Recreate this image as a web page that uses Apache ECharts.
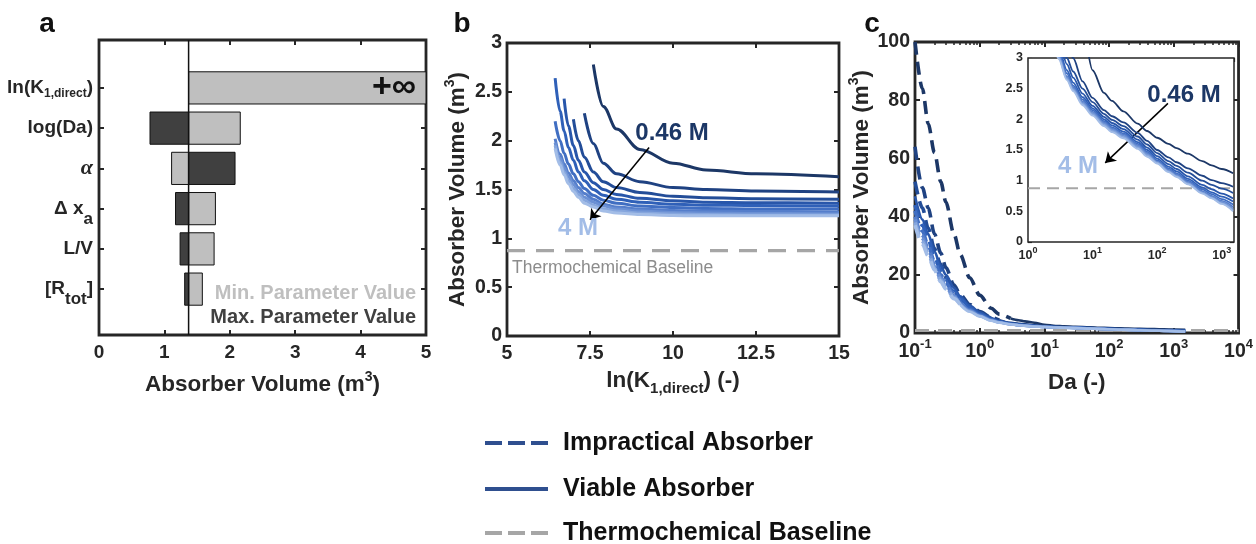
<!DOCTYPE html>
<html><head><meta charset="utf-8">
<script src="https://cdn.jsdelivr.net/npm/echarts@6/dist/echarts.min.js"></script>
<style>html,body{margin:0;padding:0;background:#fff}#c{width:1256px;height:544px}</style>
</head><body><div id="c"></div>
<script>
// ---------------- Panel a : tornado of absorber volume ----------------
const categoriesA = ['ln(K1,direct)', 'log(Da)', 'α', 'Δ xa', 'L/V', '[Rtot]'];
const categoryLabelsA = ['{t|ln(K}{s|1,direct}{t|)}', '{t|log(Da)}', '{g|α}', '{u|Δ x}{s2|a}', '{t|L/V}', '{u|[R}{s2|tot}{u|]}'];
const minParamVolA = [Infinity, 2.16, 1.11, 1.78, 1.76, 1.58];   // light bars (min. parameter value)
const maxParamVolA = [1.37, 0.78, 2.08, 1.17, 1.24, 1.31];       // dark bars (max. parameter value)
const baseVolA = 1.37;

// ---------------- Panel b : volume vs ln(K1,direct) ----------------
const concLabels = ['0.46 M', '0.6 M', '0.8 M', '1 M', '1.5 M', '2 M', '2.5 M', '3 M', '3.5 M', '4 M'];
const lnK = [6.45, 6.6, 6.72, 6.85, 7.0, 7.15, 7.33, 7.6, 7.9, 8.3, 9.0, 10, 11, 12.5, 15];
const volB = [
  [null, null, null, null, null, null, null, 2.78, 2.35, 2.12, 1.91, 1.77, 1.70, 1.66, 1.63],
  [null, null, null, null, null, null, 2.28, 1.97, 1.77, 1.66, 1.58, 1.52, 1.50, 1.485, 1.475],
  [null, null, null, null, 2.22, 2.00, 1.83, 1.68, 1.58, 1.52, 1.47, 1.43, 1.415, 1.405, 1.40],
  [null, null, 2.43, 2.15, 1.95, 1.80, 1.68, 1.57, 1.50, 1.45, 1.41, 1.385, 1.37, 1.365, 1.36],
  [2.64, 2.30, 2.10, 1.93, 1.80, 1.68, 1.59, 1.50, 1.44, 1.40, 1.37, 1.35, 1.34, 1.335, 1.33],
  [2.20, 2.00, 1.87, 1.76, 1.66, 1.58, 1.51, 1.44, 1.39, 1.36, 1.33, 1.315, 1.305, 1.30, 1.30],
  [2.02, 1.86, 1.76, 1.67, 1.59, 1.52, 1.46, 1.40, 1.35, 1.32, 1.30, 1.285, 1.28, 1.275, 1.27],
  [1.98, 1.82, 1.72, 1.63, 1.55, 1.48, 1.42, 1.37, 1.33, 1.30, 1.28, 1.265, 1.26, 1.255, 1.25],
  [1.95, 1.78, 1.68, 1.59, 1.51, 1.45, 1.39, 1.34, 1.30, 1.28, 1.26, 1.25, 1.245, 1.24, 1.24],
  [1.92, 1.75, 1.65, 1.56, 1.48, 1.42, 1.36, 1.32, 1.28, 1.26, 1.245, 1.235, 1.23, 1.23, 1.23]
];
const baselineVol = 0.875;
const baselineXB = [5, 15];

// ---------------- Panel c : volume vs Da ----------------
const Da = [0.1, 0.13, 0.16, 0.2, 0.25, 0.3, 0.4, 0.5, 0.7, 1, 1.5, 2, 3, 4, 5, 7, 10, 15, 20, 30, 50, 70, 100, 150, 200, 300, 500, 700, 1000, 1500];
const volC = [
  [100, 84, 72, 62, 52, 45, 34, 27, 19, 13, 8.5, 6.5, 5.0, 4.4, 4.0, 3.5, 2.8, 2.43, 2.3, 2.13, 1.93, 1.81, 1.70, 1.60, 1.53, 1.44, 1.32, 1.25, 1.19, 1.12],
  [64, 50, 43, 34, 27.5, 22.5, 16.5, 13.2, 9.8, 7.4, 5.4, 4.4, 3.5, 3.2, 3.0, 2.62, 2.35, 2.15, 2.05, 1.95, 1.78, 1.65, 1.50, 1.38, 1.30, 1.20, 1.08, 1.01, 0.96, 0.90],
  [52, 43, 36, 29, 23.5, 19.2, 14.5, 11.8, 8.8, 6.7, 5.0, 4.1, 3.35, 3.0, 2.78, 2.5, 2.28, 2.09, 1.99, 1.89, 1.72, 1.59, 1.45, 1.32, 1.24, 1.13, 1.00, 0.93, 0.87, 0.80],
  [47, 39, 34, 28, 23, 20, 15.5, 12.6, 9.4, 7.1, 5.1, 4.1, 3.3, 2.9, 2.68, 2.42, 2.22, 2.04, 1.94, 1.84, 1.67, 1.54, 1.40, 1.27, 1.19, 1.07, 0.93, 0.86, 0.79, 0.71],
  [44, 37, 32, 26, 21.5, 18.5, 14.5, 11.8, 8.8, 6.6, 4.8, 3.9, 3.15, 2.8, 2.6, 2.36, 2.18, 2.0, 1.9, 1.80, 1.63, 1.50, 1.36, 1.23, 1.15, 1.03, 0.89, 0.81, 0.74, 0.66],
  [42, 35, 30, 24.5, 20, 17.2, 13.3, 10.9, 8.2, 6.3, 4.6, 3.8, 3.08, 2.75, 2.55, 2.32, 2.15, 1.97, 1.87, 1.77, 1.60, 1.47, 1.33, 1.20, 1.12, 1.00, 0.86, 0.78, 0.70, 0.61],
  [40, 33.5, 29, 23.5, 19.2, 16.4, 12.8, 10.4, 7.9, 6.1, 4.5, 3.7, 3.04, 2.7, 2.52, 2.29, 2.12, 1.95, 1.85, 1.75, 1.58, 1.45, 1.31, 1.18, 1.10, 0.98, 0.83, 0.75, 0.67, 0.57],
  [39, 32.5, 28, 22.8, 18.6, 15.9, 12.4, 10.1, 7.7, 5.9, 4.4, 3.65, 3.02, 2.68, 2.5, 2.27, 2.10, 1.93, 1.83, 1.73, 1.56, 1.43, 1.30, 1.16, 1.08, 0.96, 0.81, 0.73, 0.65, 0.54],
  [38, 31.5, 27.2, 22.2, 18.1, 15.5, 12.1, 9.9, 7.5, 5.8, 4.3, 3.6, 3.0, 2.66, 2.48, 2.25, 2.08, 1.91, 1.81, 1.71, 1.54, 1.41, 1.29, 1.15, 1.07, 0.95, 0.80, 0.72, 0.63, 0.52],
  [37, 30.5, 26.5, 21.6, 17.6, 15.1, 11.8, 9.7, 7.3, 5.7, 4.2, 3.55, 2.98, 2.64, 2.46, 2.23, 2.06, 1.89, 1.79, 1.69, 1.52, 1.39, 1.28, 1.14, 1.06, 0.94, 0.79, 0.71, 0.62, 0.50]
];
// last Da index of the impractical (dashed) part of each curve; -1 = none
const impracticalUpTo = [12, 11, 10, -1, 5, 7, 7, 7, 7, 7];
const baselineXC = [0.1, 10000];
const baselineXInset = [1, 1550];

// ---------------- styling ----------------
const FONT = 'Liberation Sans, Arial, Helvetica, sans-serif';
const INK = '#262626';
const blues = ['#1c3766', '#1f4282', '#234d98', '#2856aa', '#2f60b8', '#406ec2', '#557ecb', '#6b90d4', '#86a6dd', '#a3bde7'];
const LIGHT = '#bfbfbf', DARK = '#404040', GRAY = '#a6a6a6';

const tick = (len, w) => ({show: true, inside: true, length: len, lineStyle: {color: INK, width: w}});
const noLine = {show: false, onZero: false};
const lbl = (size) => ({show: true, color: INK, fontFamily: FONT, fontWeight: 'bold', fontSize: size, margin: 8});
const hidden = {show: false};
const titleRich = {
  t: {fontFamily: FONT, fontWeight: 'bold', fontSize: 22.5, color: INK, lineHeight: 30, verticalAlign: 'middle'},
  p: {fontFamily: FONT, fontWeight: 'bold', fontSize: 14, color: INK, lineHeight: 14, verticalAlign: 'top'},
  s: {fontFamily: FONT, fontWeight: 'bold', fontSize: 15, color: INK, lineHeight: 15, verticalAlign: 'bottom'}
};
const logRich = (big, small) => ({
  b: {fontFamily: FONT, fontWeight: 'bold', fontSize: big, color: INK, lineHeight: big + 7, verticalAlign: 'middle'},
  e: {fontFamily: FONT, fontWeight: 'bold', fontSize: small, color: INK, lineHeight: small, verticalAlign: 'top'}
});
const logFmt = v => '{b|10}{e|' + Math.round(Math.log10(v)) + '}';

// minor tick positions (log10 space) for the log axes
function minorPos(lo, hi, maxVal) {
  const out = [];
  for (let n = lo; n <= hi; n++) for (let k = 2; k <= 9; k++) {
    const v = k * Math.pow(10, n);
    if (v <= maxVal) out.push(Math.log10(v));
  }
  return out;
}

const posA = categoriesA.map((c, i) => i + 1);
const xMaxA = 5;
const yMinA = -0.19, yMaxA = 7.14;

function barRender(params, api) {
  const s = api.value(0), e = api.value(1), p = api.value(2);
  const a = api.coord([s, p]), b = api.coord([e, p]);
  const h = api.size([0, 0.8])[1];
  const w = Math.abs(b[0] - a[0]);
  if (w < 0.5) return null;
  return {
    type: 'rect',
    shape: {x: Math.min(a[0], b[0]), y: a[1] - h / 2, width: w, height: h},
    style: {fill: api.visual('color'), stroke: '#111', lineWidth: 1}
  };
}

const series = [];
// panel a
series.push({type: 'custom', name: 'Min. Parameter Value', xAxisIndex: 0, yAxisIndex: 0, color: LIGHT, renderItem: barRender,
  data: categoriesA.map((c, i) => [baseVolA, Math.min(minParamVolA[i], xMaxA), i + 1]), z: 3});
series.push({type: 'custom', name: 'Max. Parameter Value', xAxisIndex: 0, yAxisIndex: 0, color: DARK, renderItem: barRender,
  data: categoriesA.map((c, i) => [baseVolA, Math.min(maxParamVolA[i], xMaxA), i + 1]), z: 3});
series.push({type: 'line', xAxisIndex: 0, yAxisIndex: 0, showSymbol: false, z: 5,
  lineStyle: {color: '#111', width: 1.5}, data: [[baseVolA, yMinA], [baseVolA, yMaxA]]});

// panel b
volB.forEach((vals, ci) => {
  const s = {type: 'line', name: concLabels[ci], xAxisIndex: 2, yAxisIndex: 2, showSymbol: false, smooth: 0.35, smoothMonotone: 'x',
    connectNulls: false, lineStyle: {color: blues[ci], width: 3}, z: 3 + ci * 0.01,
    data: lnK.map((x, i) => [x, vals[i]])};
  if (ci === 0) s.markLine = {silent: true, symbol: ['none', 'arrow'], symbolSize: 10, label: {show: false},
    lineStyle: {color: '#000', width: 1.5, type: 'solid'},
    data: [[{coord: [9.28, 1.93]}, {coord: [7.5, 1.19]}]]};
  series.push(s);
});
series.push({type: 'line', xAxisIndex: 2, yAxisIndex: 2, showSymbol: false, z: 2,
  lineStyle: {color: GRAY, width: 3.2, type: [18, 11]}, data: baselineXB.map(x => [x, baselineVol])});

// panel c main
volC.forEach((vals, ci) => {
  const k = impracticalUpTo[ci];
  if (k >= 0) series.push({type: 'line', xAxisIndex: 4, yAxisIndex: 4, showSymbol: false, smooth: 0.3, smoothMonotone: 'x',
    lineStyle: {color: blues[ci], width: 3.6, type: [13, 7]}, z: 3,
    data: Da.slice(0, k + 1).map((x, i) => [x, vals[i]])});
  series.push({type: 'line', xAxisIndex: 4, yAxisIndex: 4, showSymbol: false, smooth: 0.3, smoothMonotone: 'x',
    lineStyle: {color: blues[ci], width: 2.6}, z: 3,
    data: Da.slice(Math.max(k, 0)).map((x, i) => [x, vals[i + Math.max(k, 0)]])});
});
series.push({type: 'line', xAxisIndex: 4, yAxisIndex: 4, showSymbol: false, z: 2,
  lineStyle: {color: GRAY, width: 3, type: [14, 9]}, data: baselineXC.map(x => [x, baselineVol])});

// panel c inset
volC.forEach((vals, ci) => {
  const s = {type: 'line', xAxisIndex: 8, yAxisIndex: 6, showSymbol: false, smooth: 0.3, smoothMonotone: 'x',
    lineStyle: {color: blues[ci], width: 1.8}, z: 6,
    data: Da.map((x, i) => [x, vals[i]])};
  if (ci === 0) s.markLine = {silent: true, symbol: ['none', 'arrow'], symbolSize: 10, label: {show: false},
    lineStyle: {color: '#000', width: 1.5, type: 'solid'},
    data: [[{coord: [147, 2.26]}, {coord: [15.7, 1.29]}]]};
  series.push(s);
});
series.push({type: 'line', xAxisIndex: 8, yAxisIndex: 6, showSymbol: false, z: 5,
  lineStyle: {color: GRAY, width: 2, type: [12, 7]}, data: baselineXInset.map(x => [x, baselineVol])});

const option = {
  animation: false,
  backgroundColor: '#fff',
  grid: [
    {left: 99, top: 40, width: 327, height: 295, show: true, borderColor: INK, borderWidth: 2.8, backgroundColor: '#fff'},
    {left: 507, top: 43, width: 332, height: 293, show: true, borderColor: INK, borderWidth: 2.8, backgroundColor: '#fff'},
    {left: 915, top: 42, width: 325, height: 291, show: true, borderColor: INK, borderWidth: 2.8, backgroundColor: '#fff'},
    {left: 1028, top: 58, width: 206, height: 184, show: true, borderColor: INK, borderWidth: 1.5, backgroundColor: '#fff', z: 4}
  ],
  xAxis: [
    // a
    {type: 'value', gridIndex: 0, position: 'bottom', min: 0, max: xMaxA, interval: 1, axisLine: noLine, axisTick: tick(5, 2), splitLine: hidden,
      axisLabel: lbl(19), name: '{t|Absorber Volume (m}{p|3}{t|)}', nameLocation: 'middle', nameGap: 35, nameTextStyle: {rich: titleRich}},
    {type: 'value', gridIndex: 0, position: 'top', min: 0, max: xMaxA, interval: 1, axisLine: noLine, axisTick: tick(5, 2), splitLine: hidden, axisLabel: hidden},
    // b
    {type: 'value', gridIndex: 1, position: 'bottom', min: 5, max: 15, interval: 2.5, axisLine: noLine, axisTick: tick(5, 2), splitLine: hidden,
      axisLabel: lbl(19.5), name: '{t|ln(K}{s|1,direct}{t|) (-)}', nameLocation: 'middle', nameGap: 30, nameTextStyle: {rich: titleRich}},
    {type: 'value', gridIndex: 1, position: 'top', min: 5, max: 15, interval: 2.5, axisLine: noLine, axisTick: tick(5, 2), splitLine: hidden, axisLabel: hidden},
    // c main
    {type: 'log', logBase: 10, gridIndex: 2, position: 'bottom', min: 0.1, max: 10000, axisLine: noLine, axisTick: tick(5, 2), splitLine: hidden,
      axisLabel: Object.assign(lbl(19.5), {formatter: logFmt, rich: logRich(19.5, 13), margin: 5}),
      name: '{t|Da (-)}', nameLocation: 'middle', nameGap: 35, nameTextStyle: {rich: titleRich}},
    {type: 'log', logBase: 10, gridIndex: 2, position: 'top', min: 0.1, max: 10000, axisLine: noLine, axisTick: tick(5, 2), splitLine: hidden, axisLabel: hidden},
    {type: 'value', gridIndex: 2, position: 'bottom', min: -1, max: 4, axisLine: noLine, splitLine: hidden, axisLabel: hidden,
      axisTick: Object.assign(tick(3, 1.5), {customValues: minorPos(-1, 3, 10000)})},
    {type: 'value', gridIndex: 2, position: 'top', min: -1, max: 4, axisLine: noLine, splitLine: hidden, axisLabel: hidden,
      axisTick: Object.assign(tick(3, 1.5), {customValues: minorPos(-1, 3, 10000)})},
    // inset
    {type: 'log', logBase: 10, gridIndex: 3, position: 'bottom', min: 1, max: 1550, axisLine: noLine, axisTick: tick(4, 1.2), splitLine: hidden,
      axisLabel: Object.assign(lbl(12.5), {formatter: logFmt, rich: logRich(12.5, 9), margin: 4})},
    {type: 'log', logBase: 10, gridIndex: 3, position: 'top', min: 1, max: 1550, axisLine: noLine, axisTick: tick(4, 1.2), splitLine: hidden, axisLabel: hidden},
    {type: 'value', gridIndex: 3, position: 'bottom', min: 0, max: Math.log10(1550), axisLine: noLine, splitLine: hidden, axisLabel: hidden,
      axisTick: Object.assign(tick(2.5, 1), {customValues: minorPos(0, 3, 1550)})},
    {type: 'value', gridIndex: 3, position: 'top', min: 0, max: Math.log10(1550), axisLine: noLine, splitLine: hidden, axisLabel: hidden,
      axisTick: Object.assign(tick(2.5, 1), {customValues: minorPos(0, 3, 1550)})}
  ],
  yAxis: [
    // a
    {type: 'value', gridIndex: 0, position: 'left', inverse: true, min: yMinA, max: yMaxA, axisLine: noLine, splitLine: hidden,
      axisTick: Object.assign(tick(5, 2), {customValues: posA}),
      axisLabel: {show: true, customValues: posA, margin: 6, align: 'right', formatter: v => categoryLabelsA[Math.round(v) - 1],
        rich: {
          t: {fontFamily: FONT, fontWeight: 'bold', fontSize: 19, color: INK, lineHeight: 24, verticalAlign: 'middle'},
          s: {fontFamily: FONT, fontWeight: 'bold', fontSize: 12, color: INK, lineHeight: 12, verticalAlign: 'bottom'},
          u: {fontFamily: FONT, fontWeight: 'bold', fontSize: 19, color: INK, lineHeight: 38, verticalAlign: 'middle'},
          s2: {fontFamily: FONT, fontWeight: 'bold', fontSize: 17, color: INK, lineHeight: 17, verticalAlign: 'bottom'},
          g: {fontFamily: 'Liberation Serif, DejaVu Serif, serif', fontStyle: 'italic', fontWeight: 'bold', fontSize: 22, color: INK}
        }}},
    {type: 'value', gridIndex: 0, position: 'right', inverse: true, min: yMinA, max: yMaxA, axisLine: noLine, splitLine: hidden, axisLabel: hidden,
      axisTick: Object.assign(tick(5, 2), {customValues: posA})},
    // b
    {type: 'value', gridIndex: 1, position: 'left', min: 0, max: 3, interval: 0.5, axisLine: noLine, axisTick: tick(5, 2), splitLine: hidden,
      axisLabel: Object.assign(lbl(19.5), {margin: 5}), name: '{t|Absorber Volume (m}{p|3}{t|)}', nameLocation: 'middle', nameGap: 34, nameTextStyle: {rich: titleRich}},
    {type: 'value', gridIndex: 1, position: 'right', min: 0, max: 3, interval: 0.5, axisLine: noLine, axisTick: tick(5, 2), splitLine: hidden, axisLabel: hidden},
    // c main
    {type: 'value', gridIndex: 2, position: 'left', min: 0, max: 100, interval: 20, axisLine: noLine, axisTick: tick(5, 2), splitLine: hidden,
      axisLabel: Object.assign(lbl(19.5), {margin: 5}), name: '{t|Absorber Volume (m}{p|3}{t|)}', nameLocation: 'middle', nameGap: 36, nameTextStyle: {rich: titleRich}},
    {type: 'value', gridIndex: 2, position: 'right', min: 0, max: 100, interval: 20, axisLine: noLine, axisTick: tick(5, 2), splitLine: hidden, axisLabel: hidden},
    // inset
    {type: 'value', gridIndex: 3, position: 'left', min: 0, max: 3, interval: 0.5, axisLine: noLine, axisTick: tick(4, 1.2), splitLine: hidden,
      axisLabel: Object.assign(lbl(12.5), {margin: 5})},
    {type: 'value', gridIndex: 3, position: 'right', min: 0, max: 3, interval: 0.5, axisLine: noLine, axisTick: tick(4, 1.2), splitLine: hidden, axisLabel: hidden}
  ],
  series: series,
  graphic: [
    {type: 'text', x: 47, y: 24, style: {text: 'a', font: 'bold 28px ' + FONT, fill: '#111', align: 'center', verticalAlign: 'middle'}},
    {type: 'text', x: 462, y: 24, style: {text: 'b', font: 'bold 28px ' + FONT, fill: '#111', align: 'center', verticalAlign: 'middle'}},
    {type: 'text', x: 872, y: 24, style: {text: 'c', font: 'bold 28px ' + FONT, fill: '#111', align: 'center', verticalAlign: 'middle'}},
    {type: 'text', x: 394, y: 88, z: 10, style: {text: '+∞', font: 'bold 34px ' + FONT, fill: '#111', align: 'center', verticalAlign: 'middle'}},
    {type: 'text', x: 416, y: 293, z: 10, style: {text: 'Min. Parameter Value', font: 'bold 20px ' + FONT, fill: LIGHT, align: 'right', verticalAlign: 'middle'}},
    {type: 'text', x: 416, y: 317, z: 10, style: {text: 'Max. Parameter Value', font: 'bold 20px ' + FONT, fill: DARK, align: 'right', verticalAlign: 'middle'}},
    {type: 'text', x: 672, y: 133, z: 10, style: {text: concLabels[0], font: 'bold 24px ' + FONT, fill: blues[0], align: 'center', verticalAlign: 'middle'}},
    {type: 'text', x: 578, y: 228, z: 10, style: {text: concLabels[9], font: 'bold 24px ' + FONT, fill: blues[9], align: 'center', verticalAlign: 'middle'}},
    {type: 'text', x: 512, y: 268, z: 10, style: {text: 'Thermochemical Baseline', font: '17.5px ' + FONT, fill: '#8c8c8c', align: 'left', verticalAlign: 'middle'}},
    {type: 'text', x: 1184, y: 95, z: 10, style: {text: concLabels[0], font: 'bold 24px ' + FONT, fill: blues[0], align: 'center', verticalAlign: 'middle'}},
    {type: 'text', x: 1078, y: 166, z: 10, style: {text: concLabels[9], font: 'bold 24px ' + FONT, fill: blues[9], align: 'center', verticalAlign: 'middle'}},
    // legend
    {type: 'line', shape: {x1: 485, y1: 443, x2: 548, y2: 443}, style: {stroke: '#2f4f8f', lineWidth: 4, lineDash: [17, 6]}},
    {type: 'line', shape: {x1: 485, y1: 489, x2: 548, y2: 489}, style: {stroke: '#2f4f8f', lineWidth: 4}},
    {type: 'line', shape: {x1: 485, y1: 533, x2: 548, y2: 533}, style: {stroke: GRAY, lineWidth: 4, lineDash: [17, 6]}},
    {type: 'text', x: 563, y: 443, style: {text: 'Impractical Absorber', font: 'bold 25px ' + FONT, fill: '#111', align: 'left', verticalAlign: 'middle'}},
    {type: 'text', x: 563, y: 489, style: {text: 'Viable Absorber', font: 'bold 25px ' + FONT, fill: '#111', align: 'left', verticalAlign: 'middle'}},
    {type: 'text', x: 563, y: 533, style: {text: 'Thermochemical Baseline', font: 'bold 25px ' + FONT, fill: '#111', align: 'left', verticalAlign: 'middle'}}
  ]
};
const chart = echarts.init(document.getElementById('c'));
chart.setOption(option);
</script></body></html>
